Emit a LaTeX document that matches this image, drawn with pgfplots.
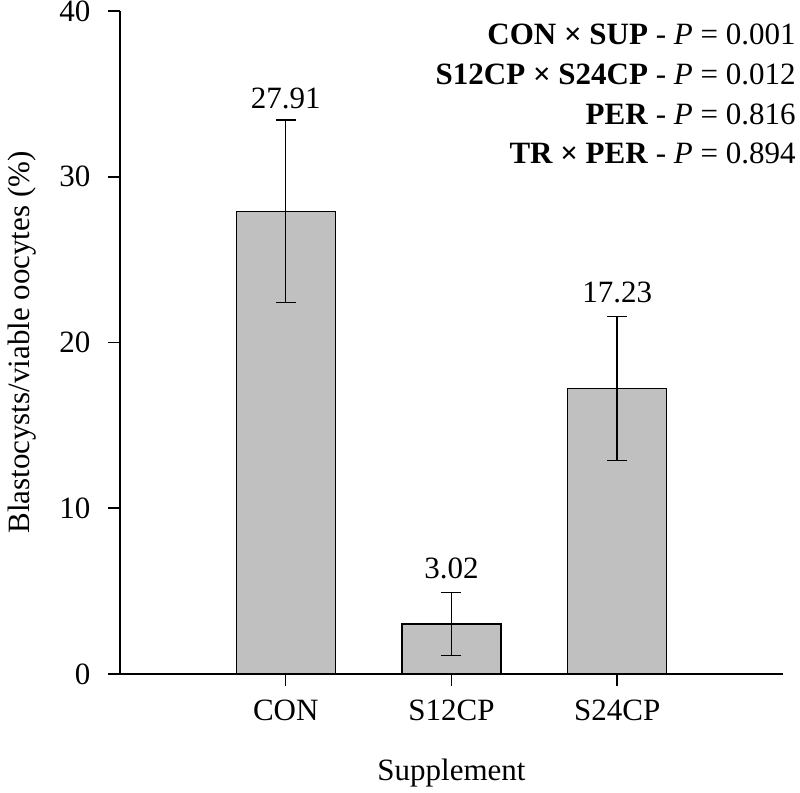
\documentclass[border=0pt]{standalone}
\usepackage{fontspec}
\setmainfont{Liberation Serif}
\usepackage{pgfplots}
\pgfplotsset{compat=1.18}
\definecolor{barfill}{RGB}{192,192,192}

\begin{document}
\fontsize{15.5}{18.6}\selectfont
\begin{tikzpicture}
\useasboundingbox (-60pt,-59.5pt) rectangle (340pt,337pt);
\begin{axis}[
  at={(0,0)}, anchor=south west,
  scale only axis, width=331.5pt, height=331.5pt,
  xmin=0, xmax=4, ymin=0, ymax=40,
  axis lines=left, axis line style={-, line width=0.75pt},
  xtick={1,2,3}, xticklabels={CON,S12CP,S24CP},
  ytick={0,10,20,30,40},
  tick align=outside, major tick length=6pt,
  tick style={line width=0.75pt, black},
  yticklabel style={xshift=-3.5pt, inner ysep=0pt},
  xticklabel style={yshift=-1.5pt},
  xlabel={Supplement}, ylabel={Blastocysts/viable oocytes (\%)},
  xlabel style={at={(axis description cs:0.5,-0.1493)}, anchor=center},
  ylabel style={at={(axis description cs:-0.1478,0.5)}, anchor=center},
  ybar, bar width=49.5pt,
  clip=false,
  /pgf/number format/assume math mode=true,
]
% means with +- error
\addplot[fill=barfill, draw=black, line width=0.7pt,
  error bars/.cd, y dir=both, y explicit,
  error bar style={line width=0.75pt, black},
  error mark options={rotate=90, mark size=5pt, line width=0.75pt}]
  coordinates {(1,27.91) +- (0,5.5) (2,3.02) +- (0,1.9) (3,17.23) +- (0,4.35)};

% value labels above the caps
\node[anchor=base, yshift=6pt] at (axis cs:1,33.41) {27.91};
\node[anchor=base, yshift=7pt] at (axis cs:2,4.92) {3.02};
\node[anchor=base, yshift=7pt] at (axis cs:3,21.58) {17.23};

% P values
\begin{scope}[every node/.style={anchor=base east, inner xsep=0pt}]
\node at (axis cs:4.078,37.95) {\textbf{CON × SUP} - \textit{P} = 0.001};
\node at (axis cs:4.078,35.57) {\textbf{S12CP × S24CP} - \textit{P} = 0.012};
\node at (axis cs:4.078,33.18) {\textbf{PER} - \textit{P} = 0.816};
\node at (axis cs:4.078,30.80) {\textbf{TR × PER} - \textit{P} = 0.894};
\end{scope}
\end{axis}
\end{tikzpicture}
\end{document}
